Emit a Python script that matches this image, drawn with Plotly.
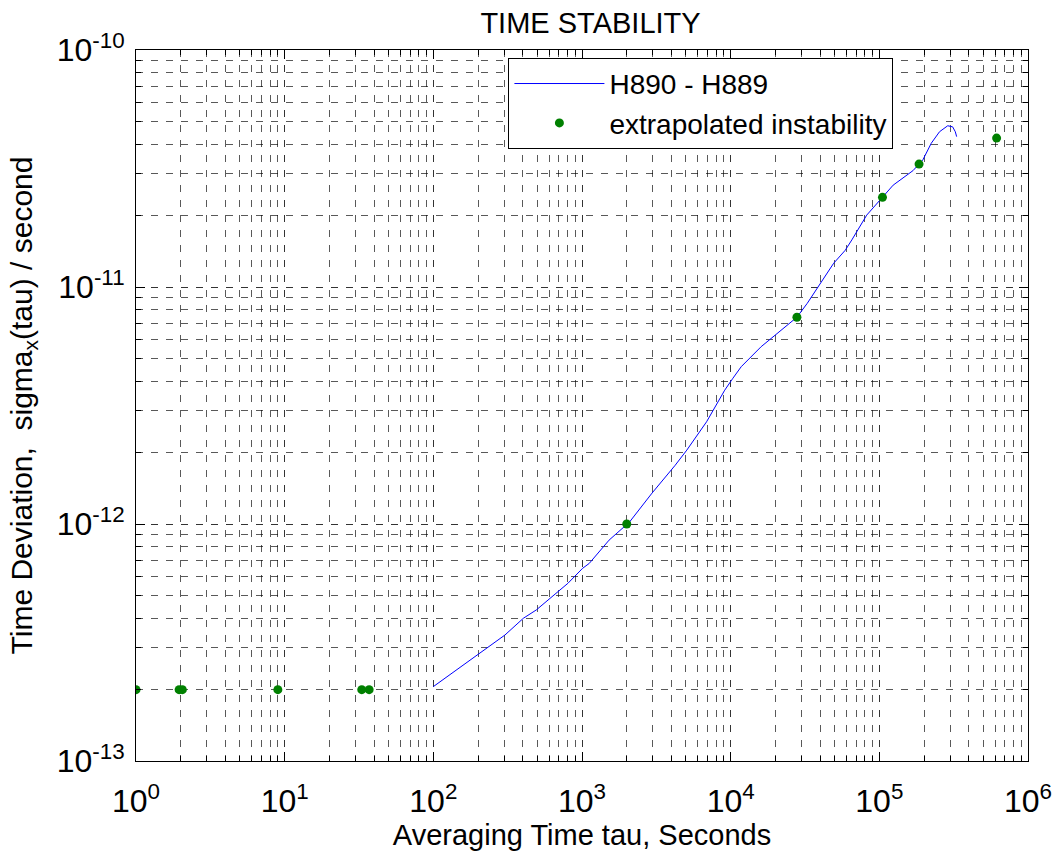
import plotly.graph_objects as go

# ---- data ----
tau_line = [100, 196, 303, 403, 493, 804, 1009, 1119, 1521, 2089, 2958, 4236,
            5070, 6887, 9120, 10351, 11776, 16032, 22909, 27861, 32734, 41210,
            49317, 59020, 65313, 82224, 105196, 123880, 168655, 196336, 223357,
            254097, 288403, 311172, 324340, 331131]
sigma_line = [2.06e-13, 2.80e-13, 3.40e-13, 4.00e-13, 4.34e-13, 5.62e-13, 6.50e-13,
              6.82e-13, 8.55e-13, 1.02e-12, 1.35e-12, 1.77e-12, 2.05e-12, 2.70e-12,
              3.67e-12, 4.12e-12, 4.61e-12, 5.60e-12, 6.70e-12, 7.45e-12, 8.53e-12,
              1.07e-11, 1.26e-11, 1.43e-11, 1.58e-11, 2.01e-11, 2.39e-11, 2.69e-11,
              3.10e-11, 3.44e-11, 4.04e-11, 4.52e-11, 4.79e-11, 4.74e-11, 4.52e-11,
              4.31e-11]

tau_pts = [1, 1.95, 2.05, 9, 33, 37, 2000, 27900, 105000, 185000, 615000]
sigma_pts = [2e-13, 2e-13, 2e-13, 2e-13, 2e-13, 2e-13, 1.0e-12, 7.45e-12,
             2.39e-11, 3.3e-11, 4.25e-11]

x_ticks = [1, 10, 100, 1e3, 1e4, 1e5, 1e6]
x_ticktext = ["10<sup>0</sup>", "10<sup>1</sup>", "10<sup>2</sup>", "10<sup>3</sup>",
              "10<sup>4</sup>", "10<sup>5</sup>", "10<sup>6</sup>"]
y_ticks = [1e-13, 1e-12, 1e-11, 1e-10]
y_ticktext = ["10<sup>-13</sup>", "10<sup>-12</sup>", "10<sup>-11</sup>", "10<sup>-10</sup>"]

FONT = "Liberation Sans, Arial, sans-serif"

x_minor = [m * 10 ** e for e in range(0, 6) for m in range(2, 10)]
y_minor = [m * 10.0 ** e for e in range(-13, -10) for m in range(2, 10)]

fig = go.Figure()
fig.add_trace(go.Scatter(x=tau_line, y=sigma_line, mode="lines", name="H890 - H889",
                         line=dict(color="#0000FF", width=1)))
fig.add_trace(go.Scatter(x=tau_pts, y=sigma_pts, mode="markers",
                         name="extrapolated instability",
                         marker=dict(color="#008000", size=9)))

grid_major = "rgba(0,0,0,0.8)"
grid_minor = "rgba(0,0,0,0.65)"
dash = "7px,8px"

common = dict(showline=True, linecolor="black", linewidth=1, mirror="ticks",
              ticks="inside", ticklen=9, tickcolor="black", tickwidth=1,
              showgrid=True, gridcolor=grid_major, gridwidth=1, griddash=dash,
              zeroline=False, tickfont=dict(family=FONT, size=32, color="black"))

fig.update_xaxes(type="log", range=[0, 6], tickmode="array", tickvals=x_ticks,
                 ticktext=x_ticktext, ticklabelstandoff=12,
                 title=dict(text="Averaging Time tau, Seconds",
                            font=dict(family=FONT, size=29, color="black"), standoff=3),
                 minor=dict(tickmode="array", tickvals=x_minor, ticks="inside",
                            ticklen=5, tickcolor="black", showgrid=True,
                            gridcolor=grid_minor, griddash=dash, gridwidth=1),
                 **common)
fig.update_yaxes(type="log", range=[-13, -10], tickmode="array", tickvals=y_ticks,
                 ticktext=y_ticktext, ticklabelstandoff=4,
                 title=dict(text="Time Deviation,  sigma<sub>x</sub>(tau) / second",
                            font=dict(family=FONT, size=30, color="black"), standoff=15),
                 minor=dict(tickmode="array", tickvals=y_minor, ticks="inside",
                            ticklen=5, tickcolor="black", showgrid=True,
                            gridcolor=grid_minor, griddash=dash, gridwidth=1),
                 **common)

fig.update_layout(
    width=1064, height=857,
    margin=dict(l=136, r=26, t=50, b=96, pad=0),
    paper_bgcolor="white", plot_bgcolor="white",
    title=dict(text="TIME STABILITY", x=0.555, xanchor="center", y=0.985, yanchor="top",
               font=dict(family=FONT, size=29, color="black")),
    font=dict(family=FONT, color="black"),
    legend=dict(x=0.4175, y=0.989, xanchor="left", yanchor="top",
                bgcolor="white", bordercolor="black", borderwidth=1,
                font=dict(family=FONT, size=28, color="black"),
                itemwidth=90, tracegroupgap=0),
    showlegend=True,
)

fig.write_html("out.html")
